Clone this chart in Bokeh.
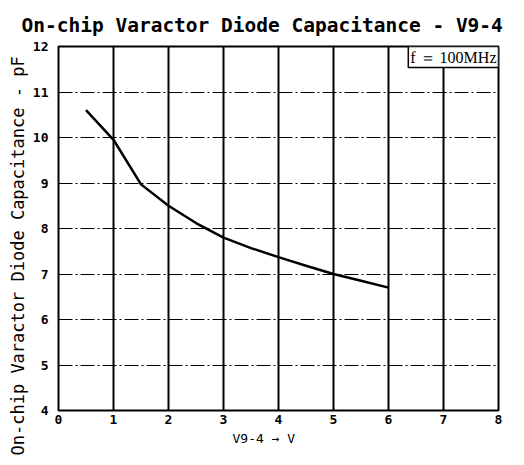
from bokeh.plotting import figure
from bokeh.models import Label, FixedTicker, Title
from bokeh.embed import file_html
from bokeh.resources import INLINE

# Data
voltage = [0.5, 1.0, 1.5, 2.0, 2.5, 3.0, 3.5, 4.0, 4.5, 5.0, 5.5, 6.0]
capacitance = [10.6, 9.95, 8.97, 8.5, 8.12, 7.8, 7.57, 7.37, 7.18, 7.0, 6.85, 6.7]
x_ticks = [0, 1, 2, 3, 4, 5, 6, 7, 8]
y_ticks = [4, 5, 6, 7, 8, 9, 10, 11, 12]
title_text = "On-chip Varactor Diode Capacitance - V9-4"
x_label = "V9-4 \u2192 V"
y_label = "On-chip Varactor Diode Capacitance - pF"
note_text = "f \uff1d 100MHz"

p = figure(width=520, height=460, x_range=(0, 8), y_range=(4, 12),
           output_backend="svg", toolbar_location=None,
           min_border_left=58, min_border_right=22, min_border_top=46, min_border_bottom=50)

p.title.text = title_text
p.title.text_font = "DejaVu Sans Mono"
p.title.text_font_size = "19.5px"
p.title.text_font_style = "bold"
p.title.text_color = "black"
p.title.align = "left"
p.title.offset = -37
p.title.standoff = 20

p.xaxis.ticker = FixedTicker(ticks=x_ticks)
p.yaxis.ticker = FixedTicker(ticks=y_ticks)
for ax in (p.xaxis[0], p.yaxis[0]):
    ax.major_tick_in = 0
    ax.major_tick_out = 0
    ax.minor_tick_in = 0
    ax.minor_tick_out = 0
    ax.axis_line_color = None
    ax.major_label_text_font = "DejaVu Sans Mono"
    ax.major_label_text_font_style = "bold"
    ax.major_label_text_font_size = "13px"
    ax.major_label_text_color = "black"

p.xaxis.major_label_standoff = 4
p.yaxis.major_label_standoff = 10

# x-axis title as a side title, placed left of centre like the reference
xtitle = Title(text=x_label, align="left", offset=174, standoff=4,
               text_font="DejaVu Sans Mono", text_font_size="13px",
               text_font_style="normal", text_color="black")
p.add_layout(xtitle, "below")

# rotated y-axis title as a side title, shifted down like the reference
ytitle = Title(text=y_label, align="left", offset=-45, standoff=4,
               text_font="DejaVu Sans Mono", text_font_size="17px",
               text_font_style="normal", text_color="black")
p.add_layout(ytitle, "left")

p.xgrid.grid_line_color = "black"
p.xgrid.grid_line_width = 2
p.xgrid.grid_line_alpha = 1.0
p.ygrid.grid_line_color = "black"
p.ygrid.grid_line_width = 1.2
p.ygrid.grid_line_alpha = 1.0
p.ygrid.grid_line_dash = "14 3 2 3"

p.outline_line_color = "black"
p.outline_line_width = 2
p.background_fill_color = "white"
p.border_fill_color = "white"

p.line(voltage, capacitance, line_color="black", line_width=2.5)

note = Label(x=8.0, y=12.0, text=note_text, text_align="right", text_baseline="top",
             text_font="Liberation Serif", text_font_size="16px", text_color="black",
             border_line_color="black", border_line_width=1.5,
             background_fill_color="white", padding=2)
p.add_layout(note)

open("out.html", "w").write(file_html(p, INLINE))
